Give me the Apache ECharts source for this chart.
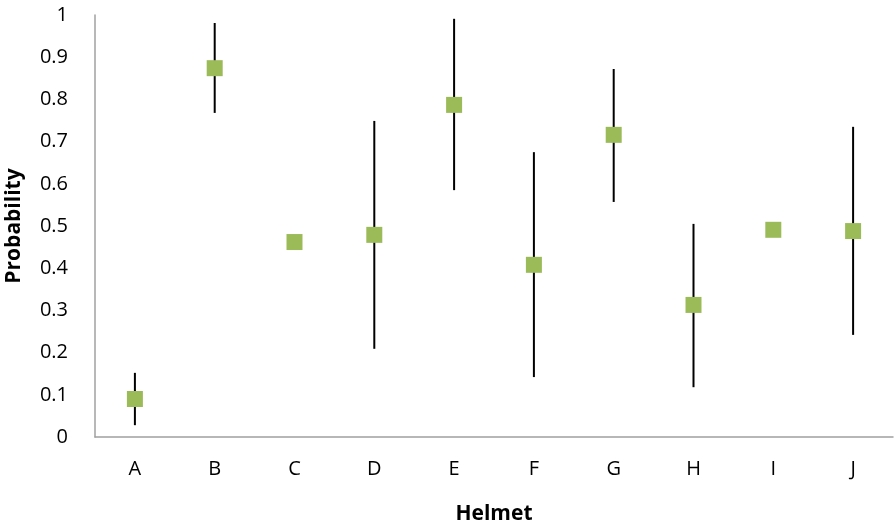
<!DOCTYPE html>
<html><head><meta charset="utf-8">
<script src="https://cdn.jsdelivr.net/npm/echarts@6/dist/echarts.min.js"></script>
<style>html,body{margin:0;padding:0;background:#fff}#c{width:894px;height:523px}</style>
</head><body><div id="c"></div>
<script>
const categories = ['A','B','C','D','E','F','G','H','I','J'];
const probability = [0.090, 0.874, 0.462, 0.479, 0.787, 0.408, 0.716, 0.313, 0.491, 0.488];
const errLow  = [0.028, 0.768, null, 0.209, 0.585, 0.142, 0.557, 0.118, null, 0.242];
const errHigh = [0.152, 0.981, null, 0.749, 0.991, 0.675, 0.872, 0.505, null, 0.735];
const yTicks = [0,0.1,0.2,0.3,0.4,0.5,0.6,0.7,0.8,0.9,1];

const errData = categories.map((c,i)=>[i, errLow[i], errHigh[i]]).filter(d=>d[1]!=null);
const font = 'Open Sans, Liberation Sans, sans-serif';
const chart = echarts.init(document.getElementById('c'));
chart.setOption({
  animation:false,
  grid:{left:95,right:1,top:15,bottom:86,outerBoundsMode:'none',containLabel:false},
  xAxis:{type:'category',data:categories,boundaryGap:true,
    axisLine:{lineStyle:{color:'#a0a0a0',width:1.5}},axisTick:{show:false},
    axisLabel:{color:'#000',fontSize:20,fontFamily:font,margin:22},
    name:'Helmet',nameLocation:'middle',nameGap:67,
    nameTextStyle:{fontWeight:'bold',fontSize:21,fontFamily:font,color:'#000'}},
  yAxis:{type:'value',min:0,max:1,interval:0.1,
    axisLine:{show:true,lineStyle:{color:'#a0a0a0',width:1.5}},axisTick:{show:false},
    splitLine:{show:false},
    axisLabel:{color:'#000',fontSize:20,fontFamily:font,margin:27,
      formatter:v=>{const t=yTicks.find(x=>Math.abs(x-v)<1e-9);return t===undefined?'':String(t);}},
    name:'Probability',nameLocation:'middle',nameGap:70,
    nameTextStyle:{fontWeight:'bold',fontSize:21,fontFamily:font,color:'#000'}},
  series:[
    {type:'custom',data:errData,encode:{x:0,y:[1,2]},z:1,
     renderItem:(params,api)=>{
       const lo=api.coord([api.value(0),api.value(1)]);
       const hi=api.coord([api.value(0),api.value(2)]);
       return {type:'line',shape:{x1:lo[0],y1:lo[1],x2:hi[0],y2:hi[1]},style:{stroke:'#000',lineWidth:2}};
     }},
    {type:'scatter',data:probability,symbol:'rect',symbolSize:16,z:2,
     itemStyle:{color:'#9BBB59',opacity:1}}
  ]
});
</script></body></html>
